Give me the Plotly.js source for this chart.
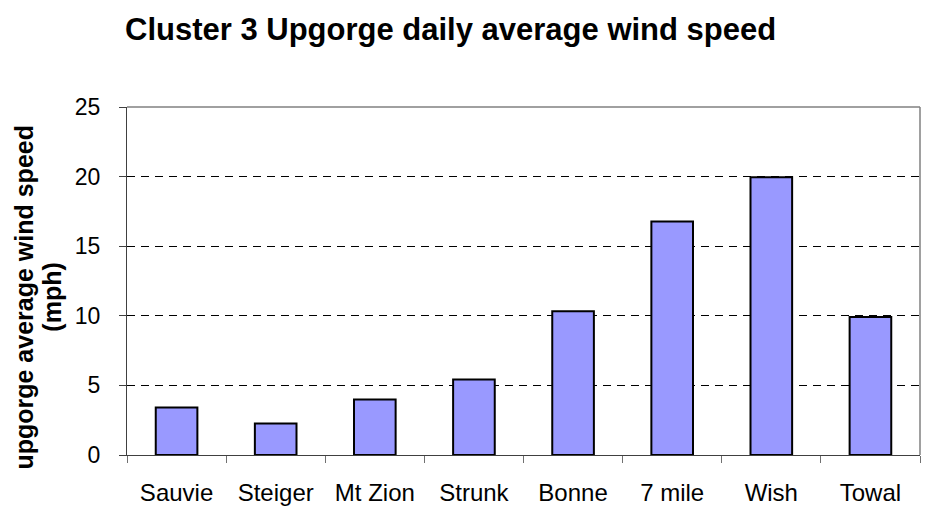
<!DOCTYPE html>
<html>
<head>
<meta charset="utf-8">
<script src="https://cdn.plot.ly/plotly-3.0.1.min.js"></script>
<style>html,body{margin:0;padding:0;background:#fff;}#chart{width:926px;height:508px;}</style>
</head>
<body>
<div id="chart"></div>
<script>
const categories = ["Sauvie", "Steiger", "Mt Zion", "Strunk", "Bonne", "7 mile", "Wish", "Towal"];
const windSpeed = [3.42, 2.27, 3.99, 5.43, 10.32, 16.77, 19.95, 9.91];
const yTicks = [0, 5, 10, 15, 20, 25];
const chartTitle = "Cluster 3 Upgorge daily average wind speed";
const yTitleLine1 = "upgorge average wind speed";
const yTitleLine2 = "(mph)";

const font = "Arial, 'Liberation Sans', sans-serif";

const trace = {
  type: "bar",
  x: categories,
  y: windSpeed,
  marker: {color: "#9999FF", line: {color: "#000000", width: 2}},
  hoverinfo: "x+y"
};

const layout = {
  width: 926, height: 508,
  margin: {l: 127, r: 6, t: 107, b: 53, pad: 0},
  paper_bgcolor: "#ffffff", plot_bgcolor: "#ffffff",
  showlegend: false,
  bargap: 0.58,
  font: {family: font, color: "#000000", size: 18},
  title: {
    text: "<b>" + chartTitle + "</b>",
    font: {family: font, size: 31, color: "#000000"},
    x: 0.135, xref: "container", xanchor: "left",
    y: 0.943, yref: "container", yanchor: "middle"
  },
  xaxis: {
    type: "category",
    showline: true, linecolor: "#404040", linewidth: 1,
    ticks: "outside", tickson: "boundaries", ticklen: 7, tickcolor: "#707070", tickwidth: 1,
    showgrid: false, zeroline: false,
    tickfont: {family: font, size: 24, color: "#000000"},
    ticklabelstandoff: 16,
    fixedrange: true
  },
  yaxis: {
    range: [0, 25],
    tickvals: yTicks,
    ticktext: yTicks.map(String),
    showline: true, linecolor: "#404040", linewidth: 1,
    ticks: "outside", ticklen: 7, tickcolor: "#404040", tickwidth: 1,
    showgrid: true, gridcolor: "#000000", gridwidth: 1, griddash: "8px,6px",
    zeroline: false,
    tickfont: {family: font, size: 23, color: "#000000"},
    ticklabelstandoff: 14,
    fixedrange: true
  },
  shapes: [
    {type: "line", xref: "paper", yref: "paper", x0: 0, x1: 1, y0: 1, y1: 1, line: {color: "#808080", width: 1.5}, layer: "above"},
    {type: "line", xref: "paper", yref: "paper", x0: 1, x1: 1, y0: 0, y1: 1, line: {color: "#808080", width: 1.5}, layer: "above"}
  ],
  annotations: [
    {
      text: "<b>" + yTitleLine1 + "</b>",
      xref: "paper", yref: "paper",
      x: -0.130, y: 0.455,
      xanchor: "center", yanchor: "middle",
      textangle: -90, showarrow: false,
      font: {family: font, size: 25, color: "#000000"}
    },
    {
      text: "<b>" + yTitleLine2 + "</b>",
      xref: "paper", yref: "paper",
      x: -0.0946, y: 0.455,
      xanchor: "center", yanchor: "middle",
      textangle: -90, showarrow: false,
      font: {family: font, size: 25, color: "#000000"}
    }
  ]
};

Plotly.newPlot("chart", [trace], layout, {displayModeBar: false, staticPlot: true});
</script>
</body>
</html>
